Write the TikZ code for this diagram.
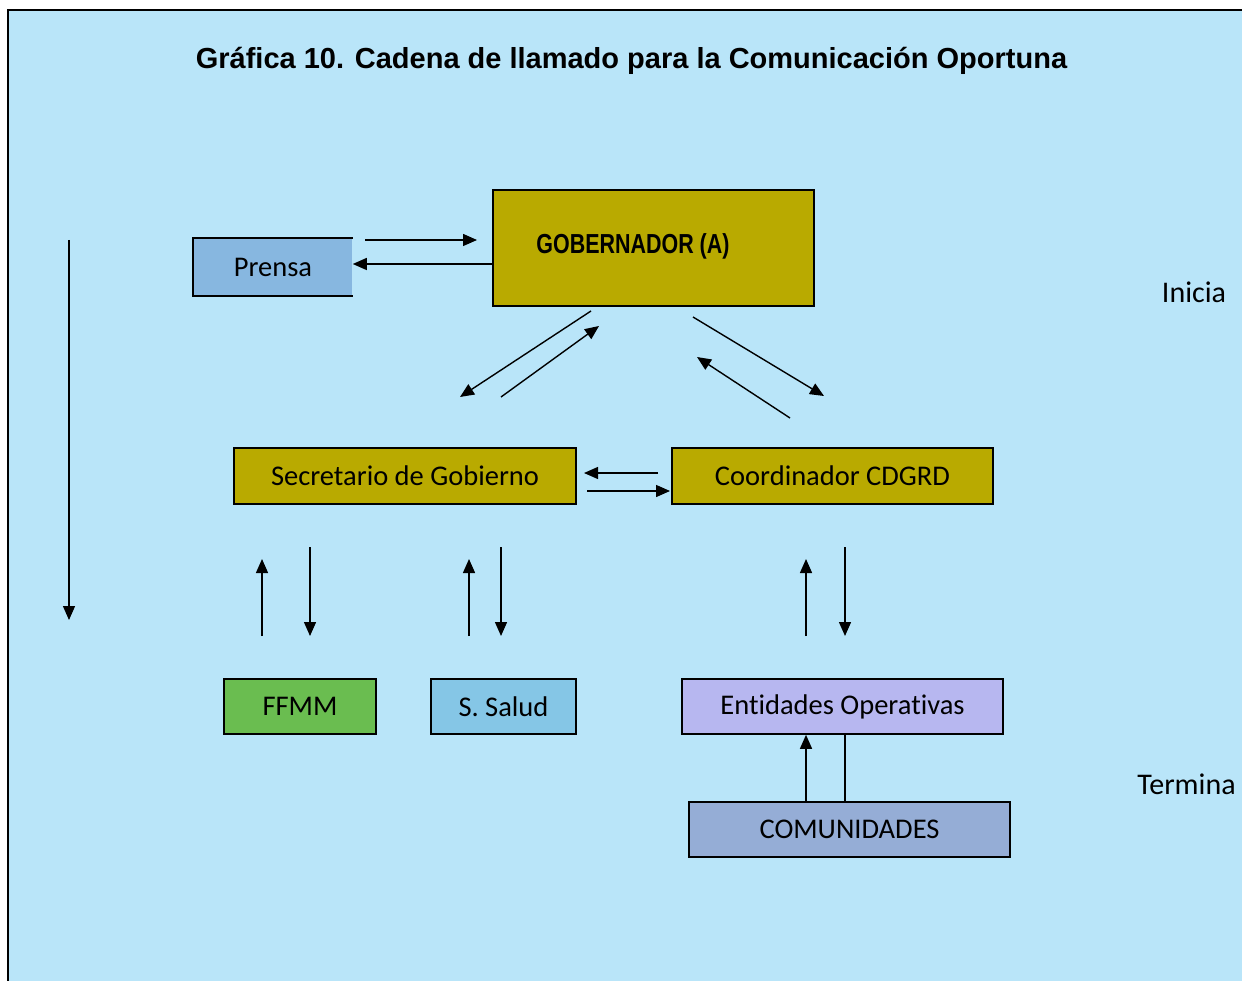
\documentclass[tikz,border=0pt]{standalone}
\usepackage{fontspec}
\setmainfont{Carlito}[Ligatures={NoCommon}]
\newfontfamily\titlefont{Liberation Sans}
\newfontfamily\narrowb[FakeStretch=0.78]{Liberation Sans}
\usetikzlibrary{arrows.meta}
\definecolor{bgblue}{RGB}{185,229,249}
\definecolor{olive}{RGB}{185,170,0}
\definecolor{prensac}{RGB}{135,183,224}
\definecolor{ffmmc}{RGB}{106,189,80}
\definecolor{saludc}{RGB}{133,198,230}
\definecolor{entc}{RGB}{183,183,240}
\definecolor{comc}{RGB}{149,173,214}
\tikzset{
  box/.style={draw=black, line width=1.6pt, inner sep=0pt, font=\fontsize{28.5}{32}\selectfont},
  arr/.style={-{Triangle[length=14pt,width=12pt]}, line width=1.4pt},
  plain/.style={line width=1.4pt},
  side/.style={font=\fontsize{30}{34}\selectfont}
}
\begin{document}
\begin{tikzpicture}[x=1pt,y=-1pt]
\useasboundingbox (0,0) rectangle (1242,981);
\fill[white] (0,0) rectangle (1242,981);
\fill[bgblue] (8,10) rectangle (1243,982);
\draw[line width=2pt] (8,982) -- (8,10) -- (1243,10);

\node (title) at (631.5,61) {\titlefont\bfseries\fontsize{29}{32}\selectfont Gráfica 10. Cadena de llamado para la Comunicación Oportuna};

% boxes
\node[box, fill=olive, minimum width=321pt, minimum height=116pt] (gob) at (653.5,248) {};
\node (gobt) at (633,246) {\narrowb\bfseries\fontsize{27.5}{30}\selectfont GOBERNADOR (A)};
\node[box, draw=none, fill=prensac, minimum width=158pt, minimum height=56pt] (prensa) at (273,267) {Prensa};
\draw[line width=1.6pt] (prensa.north east) -- (prensa.north west) -- (prensa.south west) -- (prensa.south east);
\node[box, fill=olive, minimum width=342pt, minimum height=56pt] (sec) at (405,476) {Secretario de Gobierno};
\node[box, fill=olive, minimum width=321pt, minimum height=56pt] (coord) at (832.5,476) {Coordinador CDGRD};
\node[box, fill=ffmmc, minimum width=152pt, minimum height=55pt] (ffmm) at (300,706.5) {FFMM};
\node[box, fill=saludc, minimum width=145pt, minimum height=55pt] (salud) at (503.5,706.5) {S. Salud};
\node[box, fill=entc, minimum width=321pt, minimum height=55pt] (ent) at (842.5,706.5) {Entidades Operativas};
\node[box, fill=comc, minimum width=321pt, minimum height=55pt] (com) at (849.5,829.5) {COMUNIDADES};

\node[side] (inicia) at (1194,292) {Inicia};
\node[side] (termina) at (1186.5,784) {Termina};

% coordinates for free arrow ends
\coordinate (p1s) at (365,240);
\coordinate (p1e) at (477,240);
\coordinate (d1s) at (591,311);
\coordinate (d1e) at (460,397);
\coordinate (d2s) at (501,397);
\coordinate (d2e) at (599,326);
\coordinate (d3s) at (693,317);
\coordinate (d3e) at (824,396);
\coordinate (d4s) at (790,418);
\coordinate (d4e) at (697,357);
\coordinate (h1s) at (658,473);
\coordinate (h1e) at (584,473);
\coordinate (h2s) at (587,491);
\coordinate (h2e) at (670,491);
\coordinate (v1s) at (262,636);
\coordinate (v1e) at (262,559);
\coordinate (v2s) at (310,547);
\coordinate (v2e) at (310,636);
\coordinate (v3s) at (469,636);
\coordinate (v3e) at (469,559);
\coordinate (v4s) at (501,547);
\coordinate (v4e) at (501,636);
\coordinate (v5s) at (806,636);
\coordinate (v5e) at (806,559);
\coordinate (v6s) at (845,547);
\coordinate (v6e) at (845,636);
\coordinate (ls) at (69,240);
\coordinate (le) at (69,620);

% arrows
\draw[arr] (p1s) -- (p1e);
\draw[arr] (gob.west |- 0,264) -- (prensa.east |- 0,264);
\draw[arr] (d1s) -- (d1e);
\draw[arr] (d2s) -- (d2e);
\draw[arr] (d3s) -- (d3e);
\draw[arr] (d4s) -- (d4e);
\draw[arr] (h1s) -- (h1e);
\draw[arr] (h2s) -- (h2e);
\draw[arr] (v1s) -- (v1e);
\draw[arr] (v2s) -- (v2e);
\draw[arr] (v3s) -- (v3e);
\draw[arr] (v4s) -- (v4e);
\draw[arr] (v5s) -- (v5e);
\draw[arr] (v6s) -- (v6e);
\draw[arr] (ls) -- (le);
\draw[arr] (com.north -| 806,0) -- (ent.south -| 806,0);
\draw[plain] (ent.south -| 845,0) -- (com.north -| 845,0);
\end{tikzpicture}
\end{document}
